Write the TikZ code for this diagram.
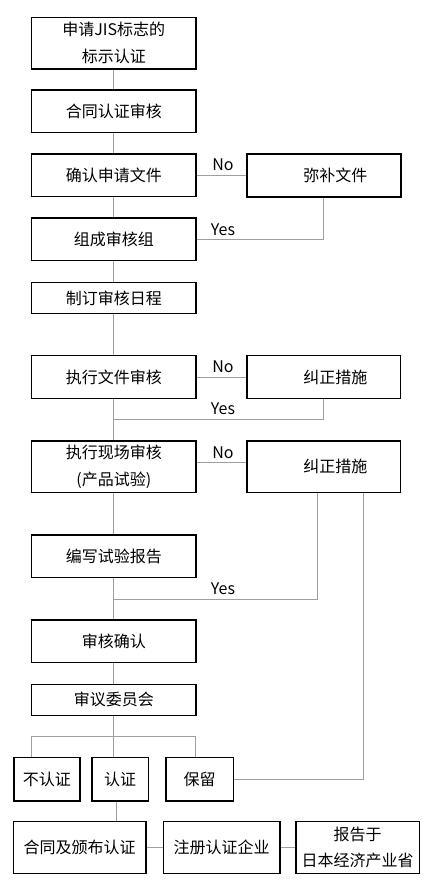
\documentclass[tikz,border=0pt]{standalone}
\usepackage{fontspec}
\setmainfont{Noto Sans CJK SC}
\usepackage{tikz}
\usetikzlibrary{positioning,backgrounds,calc}
\tikzstyle{flow}=[
  x=1pt,y=-1pt,font=\fontsize{16pt}{27pt}\selectfont
]
\tikzstyle{stage}=[
  draw,rectangle,line width=1.3pt,inner sep=0pt,align=center,
  minimum width=164.3pt,minimum height=42.7pt
]
\tikzstyle{fixbox}=[
  stage,minimum width=153.6pt
]
\tikzstyle{outcome}=[
  draw,rectangle,line width=1.3pt,inner sep=0pt,align=center,minimum height=43.3pt
]
\tikzstyle{finalbox}=[
  outcome,minimum height=51.6pt
]
\tikzstyle{link}=[
  draw=gray!75,line width=1pt
]
\tikzstyle{answer}=[
  font=\fontsize{16pt}{19pt}\selectfont,inner sep=0pt
]

\begin{document}
\begin{tikzpicture}[flow]
        \useasboundingbox (0,0) rectangle (435,892);
        \def\shiftfix{\hspace*{23pt}}
        \node (a1) at (113.8, 43.2) [stage, minimum height=51.7pt] {申请JIS标志的\\标示认证};
        \node (a2) at (113.8, 111.3) [stage] {合同认证审核};
        \node (a3) at (113.8, 175.4) [stage] {确认申请文件};
        \node (f1) at (323.8, 175.4) [fixbox, line width=2pt] {\shiftfix 弥补文件};
        \node (a4) at (113.8, 239.4) [stage] {组成审核组};
        \node (a5) at (113.8, 298) [stage, minimum height=30.6pt] {制订审核日程};
        \node (a6) at (113.8, 377) [stage] {执行文件审核};
        \node (f2) at (323.8, 377) [fixbox] {\shiftfix 纠正措施};
        \node (a7) at (113.8, 466.8) [stage, minimum height=51.7pt] {执行现场审核\\(产品试验)};
        \node (f3) at (323.8, 466.8) [fixbox, minimum height=51.7pt] {\shiftfix 纠正措施};
        \node (a8) at (113.8, 556.3) [stage] {编写试验报告};
        \node (a9) at (113.8, 641.3) [stage] {审核确认};
        \node (a10) at (113.8, 699.8) [stage, minimum height=31pt] {审议委员会};
        \node (o1) at (47, 779.3) [outcome, minimum width=66pt] {不认证};
        \node (o2) at (120.2, 779.3) [outcome, minimum width=56.3pt] {认证};
        \node (o3) at (199.7, 779.3) [outcome, minimum width=67.3pt] {保留};
        \node (b1) at (79.7, 847.5) [finalbox, minimum width=132.7pt] {合同及颁布认证};
        \node (b2) at (221.7, 847.5) [finalbox, minimum width=116.7pt] {注册认证企业};
        \node (b3) at (357.7, 847.5) [finalbox, minimum width=123.3pt,
          font=\fontsize{16pt}{26.7pt}\selectfont] {报告于\\日本经济产业省};
        \coordinate (j1) at (113.8, 419);
        \coordinate (j2) at (113.8, 599);
        \coordinate (fork) at (113.8, 736);

        \begin{scope}[on background layer]
          \draw [link] (a1) -- (a2);
          \draw [link] (a2) -- (a3);
          \draw [link] (a3) -- (a4);
          \draw [link] (a4) -- (a5);
          \draw [link] (a5) -- (a6);
          \draw [link] (a6) -- (a7);
          \draw [link] (a7) -- (a8);
          \draw [link] (a8) -- (a9);
          \draw [link] (a9) -- (a10);

          % no / yes loops
          \draw [link] (a3.east) -- (f1.west);
          \draw [link] (f1.south) |- (a4.east);
          \draw [link] (a6.east) -- (f2.west);
          \draw [link] (f2.south) |- (j1);
          \draw [link] ([yshift=4.5]a7.east) -- ([yshift=4.5]f3.west);
          \draw [link] ([xshift=-6.5]f3.south) |- (j2);
          \draw [link] ([xshift=39.5]f3.south) |- (o3.east);

          % decision
          \draw [link] (a10.south) -- (fork);
          \draw [link] (fork) -- (fork |- o2.north);
          \draw [link] ([xshift=-15.3]o1.north) |- (fork) -| ([xshift=-4]o3.north);
          \draw [link] ([xshift=-3.5]o2.south) -- ([xshift=-3.5]o2.south |- b1.north);
          \draw [link] (b1) -- (b2);
          \draw [link] (b2) -- (b3);
        \end{scope}

        \node (no1) at (223, 165) [answer] {No};
        \node (yes1) at (223, 229.5) [answer] {Yes};
        \node (no2) at (223, 367) [answer] {No};
        \node (yes2) at (223, 409) [answer] {Yes};
        \node (no3) at (223, 452.5) [answer] {No};
        \node (yes3) at (223, 588.5) [answer] {Yes};
\end{tikzpicture}
\end{document}
